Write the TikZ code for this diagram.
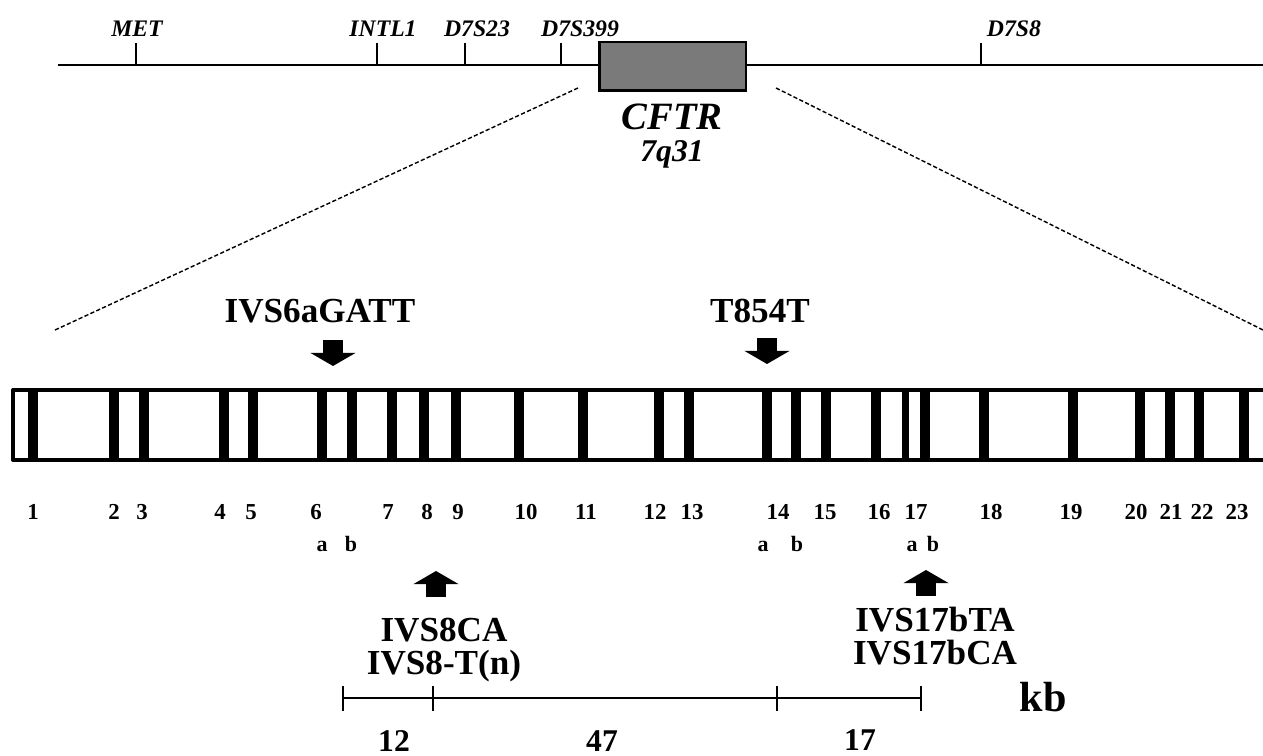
\documentclass[tikz,border=0pt]{standalone}
\usepackage{fontspec}
\setmainfont{Liberation Serif}
\usetikzlibrary{positioning, arrows.meta}

\tikzset{
  chrom/.style={line width=1.7pt},
  marker/.style={font=\fontsize{13.5}{14}\selectfont\bfseries\itshape},
  exnum/.style={font=\fontsize{13}{14}\selectfont\bfseries},
  sublab/.style={font=\fontsize{12.5}{13}\selectfont\bfseries, anchor=base},
  varlab/.style={font=\fontsize{20}{18}\selectfont\bfseries, align=center},
  scalenum/.style={font=\fontsize{18}{20}\selectfont\bfseries},
  blockarrow/.style={line width=11.3pt, -{Triangle[width=25.5pt,length=7.5pt]}},
  zoomline/.style={line width=0.8pt, dash pattern=on 2.4pt off 1.3pt},
}

\begin{document}
\begin{tikzpicture}[x=0.02cm, y=-0.02cm]
\useasboundingbox (0,0) rectangle (1263,756);

% chromosome 7 with markers
\draw[chrom] (58,65) -- (1263,65);
\foreach \x/\name/\lx in {136/MET/137, 377/INTL1/383, 465/D7S23/477, 561/D7S399/580, 981/D7S8/1014} {
  \draw[line width=1.1pt] (\x,65) -- (\x,43);
  \node[marker] (m\name) at (\lx,29) {\name};
}
\node[draw, line width=1.7pt, fill=black!52, minimum width=2.94cm, minimum height=0.98cm] (cftr) at (672.5,66.5) {};
\node[font=\fontsize{22}{24}\selectfont\bfseries\itshape] (cftrlab) at (672,117) {CFTR};
\node[font=\fontsize{18}{20}\selectfont\bfseries\itshape] (band) at (672,154) {7q31};

% zoom lines
\coordinate (zl) at (578,88);
\coordinate (zr) at (776,88);
\coordinate (el) at (55,330);
\coordinate (er) at (1263,330);
\draw[zoomline] (zl) -- (el);
\draw[zoomline] (zr) -- (er);

% gene with exons
\draw[line width=2.3pt, line join=round] (1263,390) -- (13,390) -- (13,460) -- (1263,460);
\foreach \x in {33,114,144,224,253,322,352,392,424,456,519,583,659,689,767,796,826,876,925,984,1073,1140,1170,1199,1244}
  \fill (\x-5,390) rectangle (\x+5,460);
\fill (902,390) rectangle (909,460);

\foreach \x/\n in {33/1, 114/2, 142/3, 220/4, 251/5, 316/6, 388/7, 427/8, 458/9, 526/10, 586/11, 655/12, 692/13, 778/14, 825/15, 879/16, 916/17, 991/18, 1071/19, 1136/20, 1171/21, 1202/22, 1237/23}
  \node[exnum] (ex\n) at (\x,512) {\n};
\foreach \x/\n/\l in {322/6/a, 351/6/b, 763/14/a, 797/14/b, 912/17/a, 933/17/b}
  \node[sublab] (s\n\l) at (\x,551) {\l};

% variants
\node[varlab] (ivs6) at (320,311) {IVS6aGATT};
\node[varlab] (t854) at (760,311) {T854T};
\coordinate (ivs6a) at (333,340);
\coordinate (ivs6b) at (333,366);
\coordinate (t854a) at (767,338);
\coordinate (t854b) at (767,364);
\draw[blockarrow] (ivs6a) -- (ivs6b);
\draw[blockarrow] (t854a) -- (t854b);

\node[varlab] (ivs8) at (444,650) {IVS8CA\\[1pt]IVS8-T(n)};
\node[varlab] (ivs17) at (935,636) {IVS17bTA\\[1pt]IVS17bCA};
\coordinate (ivs8a) at (436,597);
\coordinate (ivs8b) at (436,571);
\coordinate (ivs17a) at (926,596);
\coordinate (ivs17b) at (926,570);
\draw[blockarrow] (ivs8a) -- (ivs8b);
\draw[blockarrow] (ivs17a) -- (ivs17b);

% scale in kb
\coordinate (s0) at (343,698);
\coordinate (s1) at (433,698);
\coordinate (s2) at (777,698);
\coordinate (s3) at (921,698);
\draw[line width=1pt] (s0) -- (s3);
\foreach \s in {s0,s1,s2,s3}
  \draw[line width=1pt] (\s) ++(0,-12) -- ++(0,25);
\node[scalenum] (d12) at (394,741) {12};
\node[scalenum] (d47) at (602,741) {47};
\node[scalenum] (d17) at (860,740) {17};
\node[font=\fontsize{24}{26}\selectfont\bfseries] (kb) at (1043,697) {kb};
\end{tikzpicture}
\end{document}
